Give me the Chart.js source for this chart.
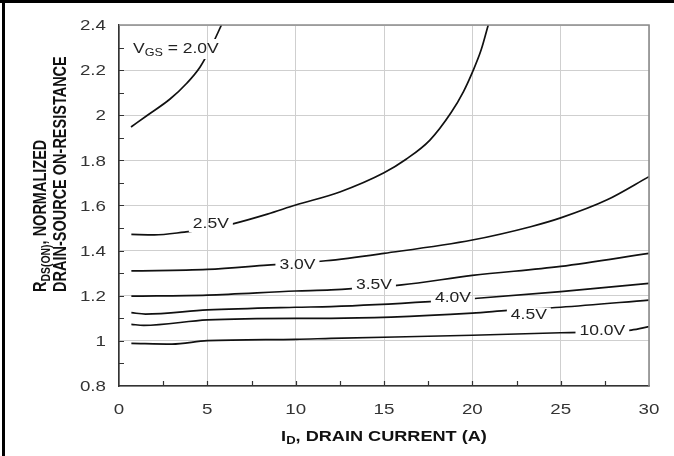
<!DOCTYPE html>
<html>
<head>
<meta charset="utf-8">
<script src="https://cdn.jsdelivr.net/npm/chart.js@4.4.1/dist/chart.umd.min.js"></script>
<style>
  html, body { margin: 0; padding: 0; background: #fff; }
  #rdsChart { display: block; }
</style>
</head>
<body>
<canvas id="rdsChart" width="674" height="456"></canvas>
<script>
// R_DS(on) normalisé en fonction de I_D, une courbe par V_GS
var id20 = [0.68, 1.59, 2.89, 3.85, 4.59, 5.21, 5.8];
var r20 = [1.948, 1.999, 2.072, 2.143, 2.214, 2.302, 2.4];

var id25 = [0.7, 2, 3.7, 5, 6.5, 8.4, 10, 12.5, 15, 16.25, 17.6, 18.8, 19.5, 20, 20.5, 20.9];
var r25 = [1.472, 1.47, 1.482, 1.495, 1.52, 1.562, 1.602, 1.66, 1.745, 1.805, 1.89, 2.012, 2.105, 2.19, 2.29, 2.4];

var id30 = [0.7, 5, 8.4, 11.7, 15, 20, 23.3, 25, 27.6, 30];
var r30 = [1.31, 1.317, 1.336, 1.355, 1.388, 1.447, 1.506, 1.545, 1.624, 1.728];

var id35 = [0.7, 5, 10, 12, 16, 20, 25, 30];
var r35 = [1.198, 1.203, 1.221, 1.226, 1.248, 1.29, 1.33, 1.388];

var id40 = [0.7, 1.5, 5, 10, 12, 17.6, 20.3, 25, 30];
var r40 = [1.125, 1.119, 1.137, 1.149, 1.152, 1.174, 1.189, 1.218, 1.255];

var id45 = [0.7, 1.4, 5, 10, 12, 20, 22, 25, 30];
var r45 = [1.073, 1.069, 1.093, 1.1, 1.1, 1.123, 1.135, 1.149, 1.181];

var id100 = [0.7, 3, 5, 10, 12, 20, 25, 29, 30];
var r100 = [0.989, 0.986, 1.001, 1.007, 1.011, 1.025, 1.036, 1.048, 1.063];

// étiquettes des courbes (centre, en unités des axes)
var curveLabels = ['2.5V', '3.0V', '3.5V', '4.0V', '4.5V', '10.0V'];
var curveLabelX = [5.2, 10.1, 14.43, 18.9, 23.2, 27.36];
var curveLabelY = [1.518, 1.336, 1.248, 1.189, 1.112, 1.041];
var vgsLabelX = 0.79, vgsLabelY = 2.294;

var xTicks = [0, 5, 10, 15, 20, 25, 30];
var xTickText = ['0', '5', '10', '15', '20', '25', '30'];
var yTicks = [0.8, 1, 1.2, 1.4, 1.6, 1.8, 2, 2.2, 2.4];
var yTickText = ['0.8', '1', '1.2', '1.4', '1.6', '1.8', '2', '2.2', '2.4'];
var xMarks = [2.5, 5, 7.5, 10, 12.5, 15, 17.5, 20, 22.5, 25, 27.5];
var yMarks = [0.9, 1, 1.1, 1.2, 1.3, 1.4, 1.5, 1.6, 1.7, 1.8, 1.9, 2, 2.1, 2.2, 2.3];

var FONT = '"Liberation Sans", Arial, Helvetica, sans-serif';
var SX = 1.25; // texte légèrement étiré en largeur

function pts(xs, ys) {
  return xs.map(function (x, i) { return { x: x, y: ys[i] }; });
}

function curve(xs, ys) {
  return {
    data: pts(xs, ys),
    borderColor: '#111',
    borderWidth: 1.7,
    pointRadius: 0,
    fill: false,
    cubicInterpolationMode: 'monotone'
  };
}

function fontOf(size, weight) {
  return (weight || 'normal') + ' ' + size + 'px ' + FONT;
}

function richWidth(ctx, parts, size, weight) {
  var w = 0;
  parts.forEach(function (p) {
    ctx.font = fontOf(p.sub ? size * 0.72 : size, weight);
    w += ctx.measureText(p.t).width;
  });
  return w;
}

// texte avec indices, éventuellement tourné et étiré
function drawRich(ctx, parts, x, y, o) {
  ctx.save();
  ctx.translate(x, y);
  if (o.rotate) ctx.rotate(o.rotate);
  ctx.scale(o.sx || 1, o.sy || 1);
  var w = richWidth(ctx, parts, o.size, o.weight);
  var cx = o.align === 'center' ? -w / 2 : (o.align === 'right' ? -w : 0);
  ctx.fillStyle = o.color;
  ctx.textBaseline = 'middle';
  ctx.textAlign = 'left';
  parts.forEach(function (p) {
    ctx.font = fontOf(p.sub ? o.size * 0.72 : o.size, o.weight);
    ctx.fillText(p.t, cx, p.sub ? o.size * 0.28 : 0);
    cx += ctx.measureText(p.t).width;
  });
  ctx.restore();
}

var LABEL_SIZE = 14;
var TICK_SIZE = 15;
var vgsParts = [{ t: 'V' }, { t: 'GS', sub: true }, { t: ' = 2.0V' }];

// rectangles où les courbes sont interrompues par les étiquettes
function labelBoxes(chart) {
  var ctx = chart.ctx, xs = chart.scales.x, ys = chart.scales.y;
  var boxes = [];
  curveLabels.forEach(function (t, i) {
    var w = richWidth(ctx, [{ t: t }], LABEL_SIZE) * SX;
    var px = xs.getPixelForValue(curveLabelX[i]);
    var py = ys.getPixelForValue(curveLabelY[i]);
    boxes.push({ x: px - w / 2 - 4, y: py - 8, w: w + 8, h: 16 });
  });
  var vw = richWidth(ctx, vgsParts, LABEL_SIZE) * SX;
  var vx = xs.getPixelForValue(vgsLabelX);
  var vy = ys.getPixelForValue(vgsLabelY);
  boxes.push({ x: vx - 3, y: vy - 10, w: vw + 6, h: 20 });
  return boxes;
}

var decor = {
  id: 'decor',
  beforeDraw: function (chart) {
    var ctx = chart.ctx;
    ctx.save();
    ctx.fillStyle = '#fff';
    ctx.fillRect(0, 0, chart.width, chart.height);
    ctx.restore();
  },
  beforeDatasetsDraw: function (chart) {
    var ctx = chart.ctx;
    ctx.save();
    ctx.beginPath();
    ctx.rect(0, 0, chart.width, chart.height);
    labelBoxes(chart).forEach(function (b) { ctx.rect(b.x, b.y, b.w, b.h); });
    ctx.clip('evenodd');
  },
  afterDatasetsDraw: function (chart) {
    var ctx = chart.ctx;
    ctx.restore();
    var xs = chart.scales.x, ys = chart.scales.y, a = chart.chartArea;

    // cadre haut / droit du graphe
    ctx.save();
    ctx.strokeStyle = '#8c8c8c';
    ctx.lineWidth = 1.6;
    ctx.beginPath();
    ctx.moveTo(a.left, a.top);
    ctx.lineTo(a.right, a.top);
    ctx.lineTo(a.right, a.bottom);
    ctx.stroke();

    // petites graduations intérieures
    ctx.strokeStyle = '#333';
    ctx.lineWidth = 1.2;
    ctx.beginPath();
    xMarks.forEach(function (v) {
      var p = Math.round(xs.getPixelForValue(v)) + 0.5;
      ctx.moveTo(p, a.bottom);
      ctx.lineTo(p, a.bottom - 5);
    });
    yMarks.forEach(function (v) {
      var p = Math.round(ys.getPixelForValue(v)) + 0.5;
      ctx.moveTo(a.left, p);
      ctx.lineTo(a.left + 5, p);
    });
    ctx.stroke();
    ctx.restore();

    // étiquettes des courbes
    curveLabels.forEach(function (t, i) {
      drawRich(ctx, [{ t: t }], xs.getPixelForValue(curveLabelX[i]), ys.getPixelForValue(curveLabelY[i]),
        { size: LABEL_SIZE, color: '#222', align: 'center', sx: SX });
    });
    drawRich(ctx, vgsParts, xs.getPixelForValue(vgsLabelX), ys.getPixelForValue(vgsLabelY),
      { size: LABEL_SIZE, color: '#222', align: 'left', sx: SX });
  },
  afterDraw: function (chart) {
    var ctx = chart.ctx, xs = chart.scales.x, ys = chart.scales.y, a = chart.chartArea;

    // libellés des graduations
    xTicks.forEach(function (v, i) {
      drawRich(ctx, [{ t: xTickText[i] }], xs.getPixelForValue(v), a.bottom + 24,
        { size: TICK_SIZE, color: '#333', align: 'center', sx: SX });
    });
    yTicks.forEach(function (v, i) {
      drawRich(ctx, [{ t: yTickText[i] }], a.left - 13, ys.getPixelForValue(v) + 1,
        { size: TICK_SIZE, color: '#333', align: 'right', sx: SX });
    });

    // titres des axes
    drawRich(ctx, [{ t: 'I' }, { t: 'D', sub: true }, { t: ', DRAIN CURRENT (A)' }], 384, a.bottom + 51,
      { size: 14.5, weight: 'bold', color: '#111', align: 'center', sx: SX });
    drawRich(ctx, [{ t: 'R' }, { t: 'DS(ON)', sub: true }, { t: ', NORMALIZED' }], 41, 292,
      { size: 14.5, weight: 'bold', color: '#111', align: 'left', rotate: -Math.PI / 2, sy: SX });
    drawRich(ctx, [{ t: 'DRAIN-SOURCE ON-RESISTANCE' }], 61, 292,
      { size: 14.5, weight: 'bold', color: '#111', align: 'left', rotate: -Math.PI / 2, sy: SX });

    // bordure noire de l'image
    ctx.save();
    ctx.fillStyle = '#000';
    ctx.fillRect(0, 0, chart.width, 3);
    ctx.fillRect(2, 0, 3, chart.height);
    ctx.restore();
  }
};

new Chart(document.getElementById('rdsChart'), {
  type: 'line',
  data: {
    datasets: [
      curve(id20, r20),
      curve(id25, r25),
      curve(id30, r30),
      curve(id35, r35),
      curve(id40, r40),
      curve(id45, r45),
      curve(id100, r100)
    ]
  },
  options: {
    responsive: false,
    animation: false,
    devicePixelRatio: 1,
    layout: { padding: { left: 119, right: 25, top: 25, bottom: 70 } },
    plugins: { legend: { display: false }, tooltip: { enabled: false } },
    scales: {
      x: {
        type: 'linear',
        min: 0,
        max: 30,
        ticks: { stepSize: 5, display: false },
        grid: { color: '#cfcfcf', lineWidth: 1, drawTicks: false },
        border: { color: '#333', width: 1.6 }
      },
      y: {
        type: 'linear',
        min: 0.8,
        max: 2.4,
        ticks: { stepSize: 0.2, display: false },
        grid: { color: '#cfcfcf', lineWidth: 1, drawTicks: false },
        border: { color: '#333', width: 1.6 }
      }
    }
  },
  plugins: [decor]
});
</script>
</body>
</html>
